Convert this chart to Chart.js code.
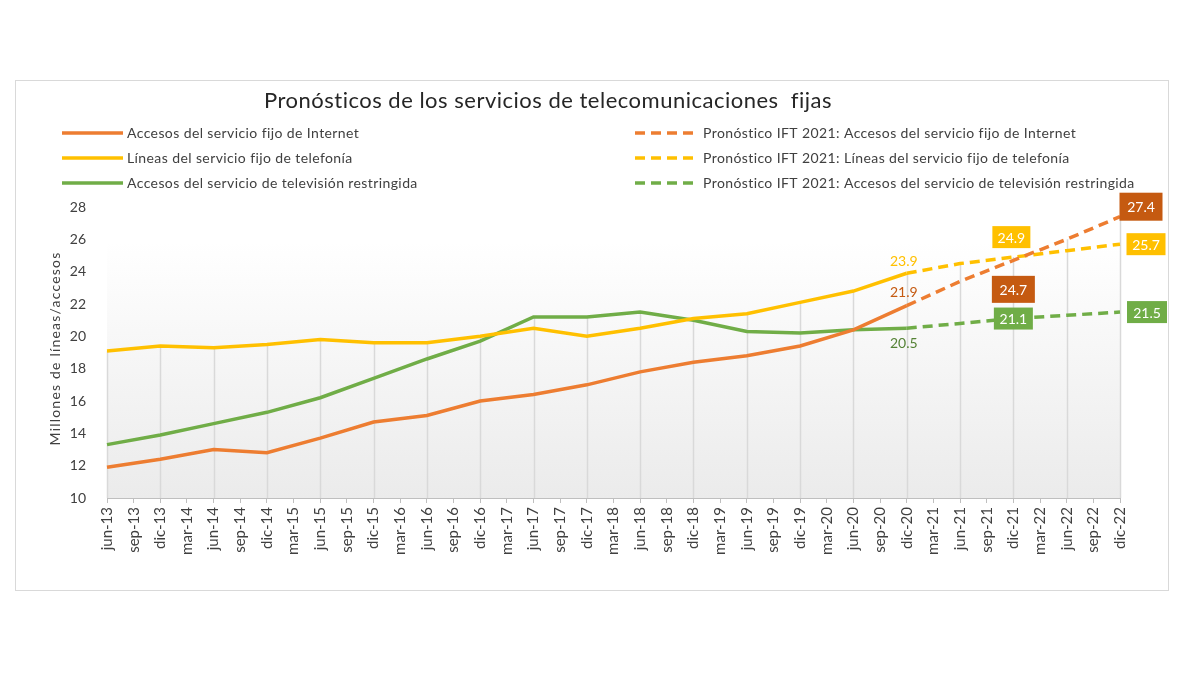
<!DOCTYPE html>
<html>
<head>
<meta charset="utf-8">
<script src="https://cdn.jsdelivr.net/npm/chart.js@4/dist/chart.umd.min.js"></script>
<style>
  body { margin: 0; background: #fff; }
  canvas { display: block; }
</style>
</head>
<body>
<canvas id="myChart" width="1200" height="675"></canvas>
<script>
// quarterly axis labels
const quarters = ['jun-13','sep-13','dic-13',
  'mar-14','jun-14','sep-14','dic-14','mar-15','jun-15','sep-15','dic-15',
  'mar-16','jun-16','sep-16','dic-16','mar-17','jun-17','sep-17','dic-17',
  'mar-18','jun-18','sep-18','dic-18','mar-19','jun-19','sep-19','dic-19',
  'mar-20','jun-20','sep-20','dic-20','mar-21','jun-21','sep-21','dic-21',
  'mar-22','jun-22','sep-22','dic-22'];

// real data is semi-annual
const actualDates = ['jun-13','dic-13','jun-14','dic-14','jun-15','dic-15','jun-16','dic-16',
  'jun-17','dic-17','jun-18','dic-18','jun-19','dic-19','jun-20','dic-20'];
const internet   = [11.9, 12.4, 13.0, 12.8, 13.7, 14.7, 15.1, 16.0, 16.4, 17.0, 17.8, 18.4, 18.8, 19.4, 20.4, 21.9];
const telefonia  = [19.1, 19.4, 19.3, 19.5, 19.8, 19.6, 19.6, 20.0, 20.5, 20.0, 20.5, 21.1, 21.4, 22.1, 22.8, 23.9];
const television = [13.3, 13.9, 14.6, 15.3, 16.2, 17.4, 18.6, 19.7, 21.2, 21.2, 21.5, 21.0, 20.3, 20.2, 20.4, 20.5];

// IFT 2021 forecast
const forecastDates = ['dic-20','jun-21','dic-21','jun-22','dic-22'];
const internetForecast   = [21.9, 23.4, 24.7, 26.0, 27.4];
const telefoniaForecast  = [23.9, 24.5, 24.9, 25.3, 25.7];
const televisionForecast = [20.5, 20.8, 21.1, 21.3, 21.5];

const yTicks = [10, 12, 14, 16, 18, 20, 22, 24, 26, 28];

const orange = '#ED7D31', yellow = '#FFC000', green = '#70AD47';

function pairs(dates, values) {
    return dates.map((d, i) => ({x: d, y: values[i]}));
}

function line(label, dates, values, color, dashed) {
    return {
        label: label,
        data: pairs(dates, values),
        borderColor: color,
        backgroundColor: color,
        borderWidth: 3.5,
        borderDash: dashed ? [10, 6] : [],
        pointRadius: 0,
        tension: 0,
        fill: false
    };
}

// value tags: which point, how it looks (ds = dataset, i = index in its data)
const valueTags = [
    {ds: 0, i: 15, box: false, color: '#C55A11', dx: -3, dy: -14},
    {ds: 1, i: 15, box: false, color: '#FFC000', dx: -3, dy: -13},
    {ds: 2, i: 15, box: false, color: '#548235', dx: -3, dy: 14},
    {ds: 3, i: 2, box: true, color: '#C55A11', dx: 0, dy: 29, w: 43, h: 27},
    {ds: 4, i: 2, box: true, color: '#FFC000', dx: -2, dy: -20, w: 38, h: 22},
    {ds: 5, i: 2, box: true, color: '#70AD47', dx: 0, dy: 0, w: 39, h: 22},
    {ds: 3, i: 4, box: true, color: '#C55A11', dx: 21, dy: -10, w: 43, h: 28},
    {ds: 4, i: 4, box: true, color: '#FFC000', dx: 26, dy: 0, w: 39, h: 22},
    {ds: 5, i: 4, box: true, color: '#70AD47', dx: 27, dy: 0, w: 40, h: 22}
];

const FONT = 'Lato, "Open Sans", sans-serif';

const framePlugin = {
    id: 'frame',
    beforeDraw(chart) {
        const {ctx, chartArea: a} = chart;
        ctx.save();
        ctx.fillStyle = '#fff';
        ctx.fillRect(0, 0, chart.width, chart.height);
        ctx.strokeStyle = '#d9d9d9';
        ctx.lineWidth = 1;
        ctx.strokeRect(15.5, 80.5, 1153, 510);
        // soft grey gradient behind the plot
        const g = ctx.createLinearGradient(0, a.top, 0, a.bottom);
        g.addColorStop(0, '#ffffff');
        g.addColorStop(0.12, '#ffffff');
        g.addColorStop(1, '#ebebeb');
        ctx.fillStyle = g;
        ctx.fillRect(a.left, a.top, a.right - a.left, a.bottom - a.top);

        // title
        ctx.fillStyle = '#262626';
        ctx.font = '22px ' + FONT;
        ctx.letterSpacing = '0.5px';
        ctx.textAlign = 'center';
        ctx.textBaseline = 'middle';
        ctx.fillText('Pronósticos de los servicios de telecomunicaciones  fijas', 548, 101);

        // legend, two columns
        ctx.font = '14px ' + FONT;
        ctx.letterSpacing = '0.4px';
        ctx.textAlign = 'left';
        chart.data.datasets.forEach((ds, k) => {
            const col = k < 3 ? 0 : 1;
            const row = k % 3;
            const x0 = col === 0 ? 62 : 635;
            const y = 133 + row * 25;
            ctx.strokeStyle = ds.borderColor;
            ctx.lineWidth = 3.5;
            ctx.setLineDash(ds.borderDash);
            ctx.beginPath();
            ctx.moveTo(x0, y);
            ctx.lineTo(x0 + 61, y);
            ctx.stroke();
            ctx.setLineDash([]);
            ctx.fillStyle = '#404040';
            ctx.fillText(ds.label, x0 + (col === 0 ? 65 : 68), y);
        });

        // y axis title
        ctx.font = '14px ' + FONT;
        ctx.letterSpacing = '1.2px';
        ctx.textAlign = 'center';
        ctx.translate(55, (a.top + a.bottom) / 2 - 4);
        ctx.rotate(-Math.PI / 2);
        ctx.fillText('Millones de líneas/accesos', 0, 0);
        ctx.restore();
    },
    beforeDatasetsDraw(chart) {
        // Excel style drop lines: from the highest point down to the axis
        const {ctx, chartArea: a, scales} = chart;
        const tops = {};
        chart.data.datasets.forEach(ds => {
            ds.data.forEach(p => {
                if (tops[p.x] === undefined || p.y > tops[p.x]) tops[p.x] = p.y;
            });
        });
        ctx.save();
        ctx.strokeStyle = '#d9d9d9';
        ctx.lineWidth = 1.5;
        Object.keys(tops).forEach(d => {
            const x = Math.round(scales.x.getPixelForValue(quarters.indexOf(d))) + 0.5;
            ctx.beginPath();
            ctx.moveTo(x, scales.y.getPixelForValue(tops[d]));
            ctx.lineTo(x, a.bottom);
            ctx.stroke();
        });
        ctx.restore();
    },
    afterDatasetsDraw(chart) {
        const {ctx} = chart;
        ctx.save();
        ctx.font = '14px ' + FONT;
        ctx.textAlign = 'center';
        ctx.textBaseline = 'middle';
        valueTags.forEach(t => {
            const pt = chart.getDatasetMeta(t.ds).data[t.i];
            const v = chart.data.datasets[t.ds].data[t.i].y.toFixed(1);
            const x = pt.x + t.dx, y = pt.y + t.dy;
            if (t.box) {
                ctx.fillStyle = t.color;
                ctx.fillRect(x - t.w / 2, y - t.h / 2, t.w, t.h);
                ctx.fillStyle = '#fff';
            } else {
                ctx.fillStyle = t.color;
            }
            ctx.fillText(v, x, y + 1);
        });
        ctx.restore();
    }
};

new Chart(document.getElementById('myChart'), {
    type: 'line',
    data: {
        labels: quarters,
        datasets: [
            line('Accesos del servicio fijo de Internet', actualDates, internet, orange, false),
            line('Líneas del servicio fijo de telefonía', actualDates, telefonia, yellow, false),
            line('Accesos del servicio de televisión restringida', actualDates, television, green, false),
            line('Pronóstico IFT 2021: Accesos del servicio fijo de Internet', forecastDates, internetForecast, orange, true),
            line('Pronóstico IFT 2021: Líneas del servicio fijo de telefonía', forecastDates, telefoniaForecast, yellow, true),
            line('Pronóstico IFT 2021: Accesos del servicio de televisión restringida', forecastDates, televisionForecast, green, true)
        ]
    },
    options: {
        responsive: false,
        animation: false,
        layout: { padding: {left: 0, right: 80, top: 207, bottom: 0} },
        plugins: {
            legend: { display: false },
            tooltip: { enabled: false }
        },
        scales: {
            x: {
                offset: false,
                afterFit: s => { s.height = 177; },
                grid: { drawOnChartArea: false, drawTicks: true, tickLength: 5, tickColor: '#bfbfbf' },
                border: { display: true, color: '#bfbfbf', width: 1 },
                ticks: {
                    autoSkip: false,
                    minRotation: 90,
                    maxRotation: 90,
                    padding: 4,
                    color: '#404040',
                    font: { family: FONT, size: 15 }
                }
            },
            y: {
                min: 10,
                max: 28,
                afterFit: s => { s.width = 107; },
                afterBuildTicks: s => { s.ticks = yTicks.map(v => ({value: v})); },
                grid: { display: false, drawTicks: false },
                border: { display: false },
                ticks: {
                    padding: 21,
                    color: '#404040',
                    font: { family: FONT, size: 14 }
                }
            }
        }
    },
    plugins: [framePlugin]
});
</script>
</body>
</html>
